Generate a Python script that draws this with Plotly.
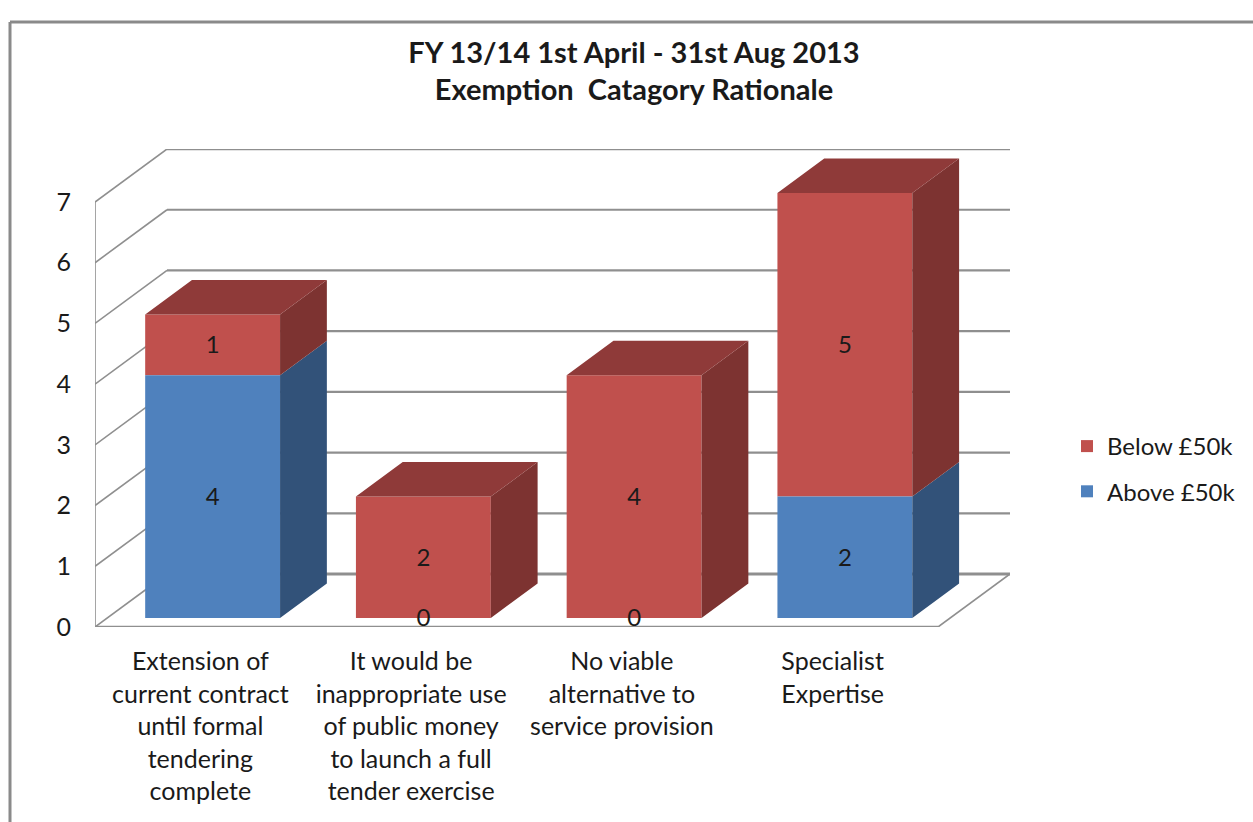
import plotly.graph_objects as go

categories = ["Extension of<br>current contract<br>until formal<br>tendering<br>complete",
              "It would be<br>inappropriate use<br>of public money<br>to launch a full<br>tender exercise",
              "No viable<br>alternative to<br>service provision",
              "Specialist<br>Expertise"]
above = [4, 0, 0, 2]
below = [1, 2, 4, 5]
y_ticks = [0, 1, 2, 3, 4, 5, 6, 7]
title_lines = ["FY 13/14 1st April - 31st Aug 2013", "Exemption  Catagory Rationale"]

W, H = 1253, 822
L, R, T, B = 95, 243, 149, 195        # plot area margins
FONT = "Lato"
INK = "#1a1a1a"
GRID = "#8f8f8f"

UX, UY = 210.75, 60.71                # px per data unit
X_MIN = -0.5
X_MAX = X_MIN + (W - L - R) / UX
Y_MAX = (H - B - T) / UY
X_FRONT = X_MIN + 4                   # right end of the front edge
DX, DY = 72 / UX, 53 / UY             # full depth of the floor
F0, F1 = 0.17, 0.82                   # depth span occupied by bars
BAR_W = 0.64
SHIFT = F0 * DX                       # bar centre relative to index
LABEL_NUDGE = 2.5 / UY                # text sits slightly high in Lato

xs = [i + SHIFT for i in range(len(categories))]
base0 = F0 * DY
run = F1 - F0


def side_polys(starts, heights):
    px, py = [], []
    for x, s, h in zip(xs, starts, heights):
        if h <= 0:
            continue
        r = x + BAR_W / 2
        b, t = base0 + s, base0 + s + h
        px += [r, r + run * DX, r + run * DX, r, r, None]
        py += [b, b + run * DY, t + run * DY, t, b, None]
    return px, py


def top_polys(tops):
    px, py = [], []
    for x, top in zip(xs, tops):
        l, r, t = x - BAR_W / 2, x + BAR_W / 2, base0 + top
        px += [l, r, r + run * DX, l + run * DX, l, None]
        py += [t, t, t + run * DY, t + run * DY, t, None]
    return px, py


def face(px, py, color):
    return go.Scatter(x=px, y=py, mode="lines", fill="toself", fillcolor=color,
                      line=dict(width=0, color=color), showlegend=False, hoverinfo="skip")


fig = go.Figure()
fig.add_trace(go.Bar(x=xs, y=below, base=[base0 + a for a in above], width=BAR_W, name="Below £50k",
                     marker=dict(color="#C0504D", line_width=0), legendgroup="b"))
fig.add_trace(go.Bar(x=xs, y=above, base=[base0] * 4, width=BAR_W, name="Above £50k",
                     marker=dict(color="#4F81BD", line_width=0), legendgroup="a"))

fig.add_trace(face(*side_polys([0] * 4, above), "#325279"))
fig.add_trace(face(*side_polys(above, below), "#7D3331"))
fig.add_trace(face(*top_polys([a + b for a, b in zip(above, below)]), "#8F3A39"))

label_x, label_y, label_t = [], [], []
for x, a, b in zip(xs, above, below):
    label_x += [x, x]
    label_y += [base0 + a / 2 - LABEL_NUDGE, base0 + a + b / 2 - LABEL_NUDGE]
    label_t += [str(a), str(b)]
fig.add_trace(go.Scatter(x=label_x, y=label_y, text=label_t, mode="text", showlegend=False,
                         textfont=dict(family=FONT, size=24, color=INK), hoverinfo="skip"))

shapes = []


def seg(x0, y0, x1, y1, width=1.6, color=GRID):
    shapes.append(dict(type="line", xref="x", yref="y", x0=x0, y0=y0, x1=x1, y1=y1,
                       layer="below", line=dict(color=color, width=width)))


for v in y_ticks:
    seg(X_MIN, v, X_MIN + DX, v + DY)
    seg(X_MIN + DX, v + DY, X_MAX, v + DY, width=3 if v == 0 else 2.2)
seg(X_MIN, 0, X_MIN, y_ticks[-1])
seg(X_MIN, 0, X_FRONT, 0, width=2.6)
seg(X_FRONT, 0, X_MAX, DY)

# outer chart frame (top and left only; the picture is cropped elsewhere)
pw, ph = W - L - R, H - T - B
fx = (10 - L) / pw
fy = 1 + (T - 22) / ph
fb = -(B + 5) / ph
shapes.append(dict(type="line", xref="paper", yref="paper", x0=fx, x1=(W + 5 - L) / pw, y0=fy, y1=fy,
                   line=dict(color="#8a8a8a", width=3)))
shapes.append(dict(type="line", xref="paper", yref="paper", x0=fx, x1=fx, y0=fy, y1=fb,
                   line=dict(color="#8a8a8a", width=3)))

fig.update_layout(
    width=W, height=H, autosize=False,
    margin=dict(l=L, r=R, t=T, b=B, pad=0, autoexpand=False),
    paper_bgcolor="white", plot_bgcolor="white",
    barmode="overlay", shapes=shapes,
    font=dict(family=FONT, size=24, color=INK),
    title=dict(text="<b>" + title_lines[0] + "<br>" + title_lines[1] + "</b>",
               x=634 / W, xanchor="center", y=1 - 62.5 / H, yanchor="middle",
               font=dict(family=FONT, size=29, color=INK)),
    xaxis=dict(range=[X_MIN, X_MAX], tickmode="array", tickvals=list(range(4)), ticktext=categories,
               showgrid=False, zeroline=False, showline=False, ticks="outside", ticklen=12,
               tickcolor="rgba(0,0,0,0)", tickangle=0, tickfont=dict(family=FONT, size=25, color=INK)),
    yaxis=dict(range=[0, Y_MAX], tickmode="array", tickvals=y_ticks, ticktext=[str(v) for v in y_ticks],
               showgrid=False, zeroline=False, showline=False, ticks="outside", ticklen=18,
               tickcolor="rgba(0,0,0,0)", tickfont=dict(family=FONT, size=25, color=INK)),
    legend=dict(x=(1067 - L) / pw, y=1 - (424 - T) / ph, xanchor="left", yanchor="top",
                traceorder="grouped", tracegroupgap=11, bgcolor="rgba(0,0,0,0)",
                font=dict(family=FONT, size=24, color=INK), itemwidth=30),
)

fig.write_html("out.html", config=dict(displayModeBar=False),
               post_script="document.body.style.margin='0';document.body.style.overflow='hidden';")
